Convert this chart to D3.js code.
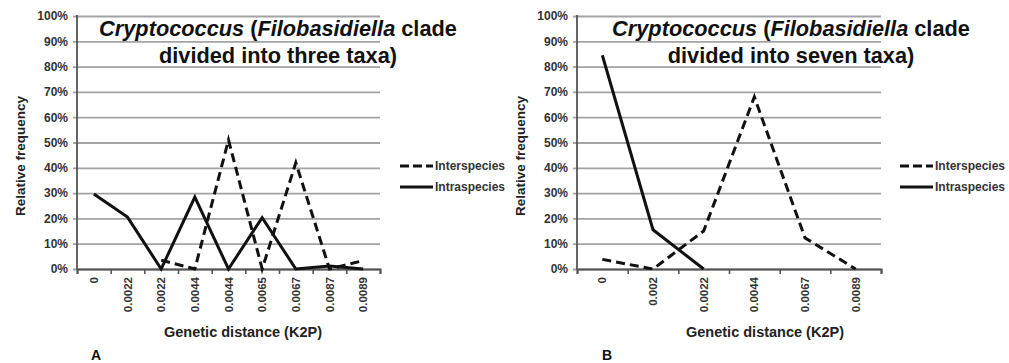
<!DOCTYPE html>
<html>
<head>
<meta charset="utf-8">
<script src="https://cdn.jsdelivr.net/npm/d3@7"></script>
<style>
  html, body { margin: 0; padding: 0; background: #fff; }
  svg { display: block; font-family: "Liberation Sans", Arial, sans-serif; }
</style>
</head>
<body>
<svg id="chart" width="1009" height="363"></svg>
<script>
// Distance classes (K2P) and relative frequencies (%) for each panel
const catsA = ["0", "0.0022", "0.0022", "0.0044", "0.0044", "0.0065", "0.0067", "0.0087", "0.0089"];
const interA = [null, null, 3.5, 0, 51, 0, 42, 0, 3.3];
const intraA = [29.6, 20.5, 0, 28.4, 0, 20.3, 0, 1.2, 0];

const catsB = ["0", "0.002", "0.0022", "0.0044", "0.0067", "0.0089"];
const interB = [3.8, 0, 15, 68, 12.3, 0];
const intraB = [84.5, 15.5, 0, null, null, null];

const yTicks = [0, 10, 20, 30, 40, 50, 60, 70, 80, 90, 100];
const titleA = ["divided into three taxa)"];
const titleB = ["divided into seven taxa)"];
const seriesNames = ["Interspecies", "Intraspecies"];
const panelLetters = ["A", "B"];

const svg = d3.select("#chart");

const panels = [
  { cats: catsA, inter: interA, intra: intraA, title2: titleA[0], letter: panelLetters[0],
    x0: 77, x1: 380, titleX: 278, xLabelX: 243, letterX: 96, legendX: 400, yLabelX: 20 },
  { cats: catsB, inter: interB, intra: intraB, title2: titleB[0], letter: panelLetters[1],
    x0: 577, x1: 881, titleX: 791, xLabelX: 765, letterX: 607, legendX: 900, yLabelX: 520 }
];

const yTop = 16, yBottom = 269;
const y = d3.scaleLinear().domain([0, 100]).range([yBottom, yTop]);

panels.forEach(p => {
  const g = svg.append("g");
  const n = p.cats.length;
  const x = d3.scaleBand().domain(d3.range(n)).range([p.x0, p.x1]);
  const xEdge = d3.scaleLinear().domain([0, n]).range([p.x0, p.x1]);
  const cx = i => x(i) + x.bandwidth() / 2;

  // horizontal gridlines with left ticks and percent labels
  const yAxis = g.append("g")
    .attr("transform", `translate(${p.x0},0)`)
    .call(d3.axisLeft(y).tickValues(yTicks).tickSize(-(p.x1 - p.x0)).tickPadding(9)
      .tickFormat(d => d + "%"));
  yAxis.select(".domain").remove();
  yAxis.selectAll(".tick line")
    .attr("x1", -4)
    .attr("stroke", "#a3a3a3").attr("stroke-width", 1.8);
  yAxis.selectAll(".tick text")
    .attr("fill", "#333").attr("font-size", 12).attr("font-weight", "bold")
    .attr("font-family", "Liberation Sans, Arial, sans-serif");

  // vertical axis line
  g.append("line")
    .attr("x1", p.x0).attr("x2", p.x0).attr("y1", yTop - 1).attr("y2", yBottom)
    .attr("stroke", "#555").attr("stroke-width", 1.8);

  // category tick marks between classes
  const xTickAxis = g.append("g")
    .attr("transform", `translate(0,${yBottom})`)
    .call(d3.axisBottom(xEdge).tickValues(d3.range(n + 1)).tickSize(5).tickFormat(""));
  xTickAxis.select(".domain").attr("stroke", "#555").attr("stroke-width", 2);
  xTickAxis.selectAll(".tick line").attr("stroke", "#555").attr("stroke-width", 1.6);

  // rotated category labels
  const xLab = g.append("g")
    .attr("transform", `translate(0,${yBottom})`)
    .call(d3.axisBottom(x).tickSize(0).tickFormat(i => p.cats[i]));
  xLab.select(".domain").remove();
  xLab.selectAll(".tick text")
    .attr("transform", "rotate(-90)")
    .attr("text-anchor", "end")
    .attr("x", -8).attr("y", 0).attr("dy", "0.35em")
    .attr("fill", "#333").attr("font-size", 11.5).attr("font-weight", "bold")
    .attr("font-family", "Liberation Sans, Arial, sans-serif");

  // two-line centred title
  const t = g.append("text")
    .attr("text-anchor", "middle").attr("font-weight", "bold").attr("font-size", 21.75)
    .attr("fill", "#111");
  const l1 = t.append("tspan").attr("x", p.titleX).attr("y", 36);
  l1.append("tspan").attr("font-style", "italic").text("Cryptococcus");
  l1.append("tspan").text(" (");
  l1.append("tspan").attr("font-style", "italic").text("Filobasidiella");
  l1.append("tspan").text(" clade");
  t.append("tspan").attr("x", p.titleX).attr("y", 63).text(p.title2);

  // axis titles
  g.append("text")
    .attr("transform", `translate(${p.yLabelX + 5},156) rotate(-90)`)
    .attr("text-anchor", "middle").attr("font-weight", "bold").attr("font-size", 13.5)
    .attr("fill", "#222").text("Relative frequency");
  g.append("text")
    .attr("x", p.xLabelX).attr("y", 337)
    .attr("text-anchor", "middle").attr("font-weight", "bold").attr("font-size", 14.5)
    .attr("fill", "#222").text("Genetic distance (K2P)");
  g.append("text")
    .attr("x", p.letterX).attr("y", 360)
    .attr("text-anchor", "middle").attr("font-weight", "bold").attr("font-size", 14)
    .attr("fill", "#111").text(p.letter);

  // frequency lines
  const line = d3.line()
    .defined(d => d != null)
    .x((d, i) => cx(i))
    .y(d => y(d));
  g.append("path").datum(p.intra)
    .attr("d", line).attr("fill", "none")
    .attr("stroke", "#111").attr("stroke-width", 3).attr("stroke-linejoin", "miter");
  g.append("path").datum(p.inter)
    .attr("d", line).attr("fill", "none")
    .attr("stroke", "#111").attr("stroke-width", 3).attr("stroke-dasharray", "9,5");

  // legend
  const lg = g.append("g").attr("transform", `translate(${p.legendX},0)`);
  [[166, "9,4"], [187, null]].forEach(([ly, dash], k) => {
    const ln = lg.append("line")
      .attr("x1", 0).attr("x2", 33).attr("y1", ly).attr("y2", ly)
      .attr("stroke", "#111").attr("stroke-width", 3);
    if (dash) ln.attr("stroke-dasharray", dash);
    lg.append("text")
      .attr("x", 35).attr("y", ly).attr("dy", "0.35em")
      .attr("font-weight", "bold").attr("font-size", 12).attr("fill", "#333")
      .text(seriesNames[k]);
  });
});
</script>
</body>
</html>
